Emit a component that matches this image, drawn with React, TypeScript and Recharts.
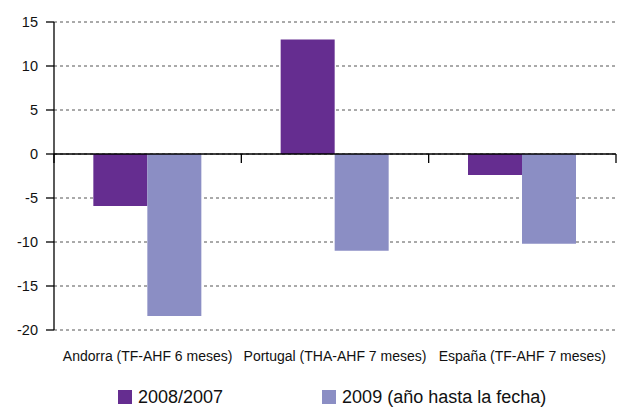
import { BarChart, Bar, XAxis, YAxis, CartesianGrid, ReferenceLine, Legend } from "recharts";

const categories = ["Andorra (TF-AHF 6 meses)", "Portugal (THA-AHF 7 meses)", "España (TF-AHF 7 meses)"];
const values2008 = [-5.9, 13, -2.4];
const values2009 = [-18.4, -11, -10.2];
const yTicks = [-20, -15, -10, -5, 0, 5, 10, 15];
const seriesNames = ["2008/2007", "2009 (año hasta la fecha)"];
const seriesColors = ["#652d90", "#8b8ec4"];

const FONT = "'Liberation Sans', Arial, Helvetica, sans-serif";

const data = categories.map((c, i) => ({
  name: c,
  a: values2008[i],
  b: values2009[i],
}));

function ZeroLine(props: any) {
  const { x1, y1, x2 } = props;
  const n = categories.length;
  const ticks = [];
  for (let i = 0; i <= n; i++) {
    const x = x1 + ((x2 - x1) * i) / n;
    ticks.push(<line key={i} x1={x} y1={y1} x2={x} y2={y1 + 9} stroke="#000" strokeWidth={1.3} />);
  }
  return (
    <g>
      <line x1={x1} y1={y1} x2={x2} y2={y1} stroke="#000" strokeWidth={1.5} />
      {ticks}
    </g>
  );
}

function LegendContent(props: any) {
  const items = props.payload || [];
  return (
    <div style={{ height: 37, display: "flex", paddingLeft: 118, paddingTop: 19, gap: 99, fontFamily: FONT, fontSize: 18, color: "#111", boxSizing: "border-box" }}>
      {items.map((p: any) => (
        <div key={p.value} style={{ display: "flex", alignItems: "center", height: 16 }}>
          <span style={{ width: 14, height: 14, background: p.color, marginRight: 6, display: "inline-block" }} />
          <span style={{ lineHeight: "16px" }}>{p.value}</span>
        </div>
      ))}
    </div>
  );
}

export default function App() {
  return (
    <div style={{ position: "absolute", left: 0, top: 0, background: "#fff" }}>
      <BarChart
        width={620}
        height={407}
        data={data}
        margin={{ top: 22, right: 4, left: 0, bottom: 0 }}
        barCategoryGap="21%"
        barGap={0}
      >
        <CartesianGrid vertical={false} strokeDasharray="3 3" stroke="#555" />
        <XAxis
          dataKey="name"
          height={40}
          axisLine={false}
          tickLine={false}
          tickSize={0}
          tickMargin={21}
          interval={0}
          tick={{ fontSize: 14, fill: "#111", fontFamily: FONT }}
        />
        <YAxis
          width={54}
          domain={[-20, 15]}
          ticks={yTicks}
          axisLine={{ stroke: "#000", strokeWidth: 1.3 }}
          tickLine={{ stroke: "#000", strokeWidth: 1.3 }}
          tickSize={8}
          tickMargin={8}
          tick={{ fontSize: 14.5, fill: "#111", fontFamily: FONT }}
        />
        <Legend verticalAlign="bottom" height={37} content={LegendContent} />
        <Bar dataKey="a" name={seriesNames[0]} fill={seriesColors[0]} isAnimationActive={false} />
        <Bar dataKey="b" name={seriesNames[1]} fill={seriesColors[1]} isAnimationActive={false} />
        <ReferenceLine y={0} shape={ZeroLine} />
      </BarChart>
    </div>
  );
}
